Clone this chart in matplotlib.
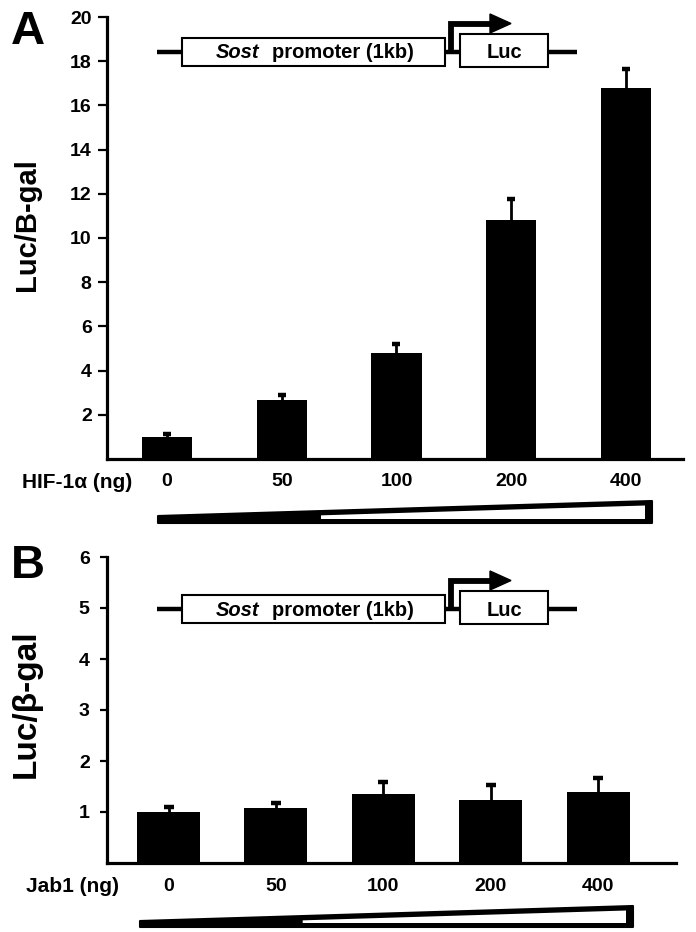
import matplotlib
matplotlib.use("Agg")
import matplotlib.pyplot as plt
from matplotlib.patches import Rectangle, Polygon
import numpy as np

plt.rcParams['font.family'] = ['Liberation Sans', 'DejaVu Sans']
plt.rcParams['font.weight'] = 'bold'

# ---------------- data ----------------
doses = ["0", "50", "100", "200", "400"]
hif_values = [1.0, 2.68, 4.8, 10.8, 16.8]
hif_errors = [0.15, 0.22, 0.4, 0.95, 0.85]
jab_values = [1.0, 1.08, 1.36, 1.23, 1.39]
jab_errors = [0.1, 0.1, 0.22, 0.3, 0.27]
hif_yticks = [2, 4, 6, 8, 10, 12, 14, 16, 18, 20]
jab_yticks = [1, 2, 3, 4, 5, 6]

W, H = 696, 932
fig = plt.figure(figsize=(W / 100, H / 100), dpi=100)
fig.patch.set_facecolor('white')


def frac_box(x0, x1, y_top, y_bot):
    return [x0 / W, 1 - y_bot / H, (x1 - x0) / W, (y_bot - y_top) / H]


axA = fig.add_axes(frac_box(107, 683, 17, 459))
axB = fig.add_axes(frac_box(107, 676, 557, 863))


def style_axis(ax, ylim, yticks, xlim, tick_len, tick_pad):
    ax.set_ylim(*ylim)
    ax.set_xlim(*xlim)
    for s in ['top', 'right']:
        ax.spines[s].set_visible(False)
    for s in ['left', 'bottom']:
        ax.spines[s].set_linewidth(2.3)
        ax.spines[s].set_color('black')
        ax.spines[s].set_capstyle('projecting')
    ax.set_yticks(yticks)
    ax.set_yticklabels([str(t) for t in yticks], fontsize=14, fontweight='bold')
    ax.tick_params(axis='y', direction='out', length=tick_len, width=1.6,
                   pad=tick_pad, colors='black')
    ax.tick_params(axis='x', length=0, pad=10)
    ax.set_facecolor('none')


def bars_with_caps(ax, x, vals, errs, width, cap_ms):
    ax.bar(x, vals, width=width, color='black', zorder=2)
    tops = np.asarray(vals) + np.asarray(errs)
    ax.vlines(x, vals, tops, color='black', lw=2.0, zorder=3)
    ax.plot(x, tops, linestyle='none', marker='_', markersize=cap_ms,
            markeredgewidth=3.2, color='black', zorder=3)


x = np.arange(len(doses))

# Panel A
style_axis(axA, (0, 20), hif_yticks, (-0.523, 4.497), 6.5, 4.5)
bars_with_caps(axA, x, hif_values, hif_errors, 0.436, 6)
axA.set_xticks(x)
axA.set_xticklabels(doses, fontsize=14, fontweight='bold')
axA.set_ylabel("Luc/B-gal", fontsize=21, fontweight='bold')
axA.yaxis.set_label_coords(-0.114, 0.53)

# Panel B
style_axis(axB, (0, 6), jab_yticks, (-0.573, 4.725), 5.0, 7.5)
bars_with_caps(axB, x, jab_values, jab_errors, 0.587, 7)
axB.set_xticks(x)
axB.set_xticklabels(doses, fontsize=14, fontweight='bold')
axB.tick_params(axis='x', pad=10.5)
axB.set_ylabel("Luc/\u03b2-gal", fontsize=24, fontweight='bold')
axB.yaxis.set_label_coords(-0.114, 0.52)

# Overlay for annotations in pixel coordinates
ov = fig.add_axes([0, 0, 1, 1], zorder=10)
ov.set_xlim(0, W)
ov.set_ylim(H, 0)
ov.axis('off')
ov.patch.set_alpha(0)

# panel letters
ov.text(11, 44, "A", fontsize=34, fontweight='bold', ha='left', va='baseline')
ov.text(11, 578, "B", fontsize=34, fontweight='bold', ha='left', va='baseline')

# treatment labels
ov.text(132, 482, "HIF-1\u03b1 (ng)", fontsize=15, fontweight='bold', ha='right', va='center')
ov.text(119, 887, "Jab1 (ng)", fontsize=15, fontweight='bold', ha='right', va='center')


def construct(dy):
    yl = 52 + dy
    ov.plot([157, 182], [yl, yl], color='black', lw=3.2, solid_capstyle='butt')
    ov.plot([445, 460], [yl, yl], color='black', lw=3.2, solid_capstyle='butt')
    ov.plot([548, 577], [yl, yl], color='black', lw=3.2, solid_capstyle='butt')
    ov.add_patch(Rectangle((182, 38 + dy), 263, 28, facecolor='white',
                           edgecolor='black', lw=1.5))
    ov.add_patch(Rectangle((460, 34 + dy), 88, 33, facecolor='white',
                           edgecolor='black', lw=1.5))
    ov.text(216, yl + 1, "Sost", fontsize=14.5, fontweight='bold', style='italic',
            ha='left', va='center')
    ov.text(272, yl + 1, "promoter (1kb)", fontsize=14.5, fontweight='bold',
            ha='left', va='center')
    ov.text(504, yl + 1, "Luc", fontsize=14.5, fontweight='bold', ha='center', va='center')
    # promoter arrow
    ov.plot([451, 451, 492], [yl, 24 + dy, 24 + dy], color='black', lw=4.2,
            solid_joinstyle='miter', solid_capstyle='butt')
    ov.add_patch(Polygon([(490, 14 + dy), (490, 33 + dy), (511, 23.5 + dy)],
                         closed=True, facecolor='black', edgecolor='black', lw=1))


construct(0)
construct(557)


def wedge(x0, x1, y_bot, y_left_top, y_right_top):
    ov.add_patch(Polygon([(x0, y_left_top), (x1, y_right_top), (x1, y_bot), (x0, y_bot)],
                         closed=True, facecolor='black', edgecolor='black', lw=1.5,
                         joinstyle='round'))
    slope = (y_right_top - y_left_top) / (x1 - x0)
    xi0 = x0 + 0.33 * (x1 - x0)
    xi1 = x1 - 7
    top0 = y_left_top + slope * (xi0 - x0) + 4.3
    top1 = y_left_top + slope * (xi1 - x0) + 4.3
    ov.add_patch(Polygon([(xi0, min(top0, y_bot - 4.5)), (xi1, top1),
                          (xi1, y_bot - 4.0), (xi0, y_bot - 4.0)],
                         closed=True, facecolor='white', edgecolor='none'))


wedge(158, 652, 523, 516, 501)
wedge(140, 633, 927, 921, 906)

fig.savefig("out.png", dpi=100, facecolor='white')
